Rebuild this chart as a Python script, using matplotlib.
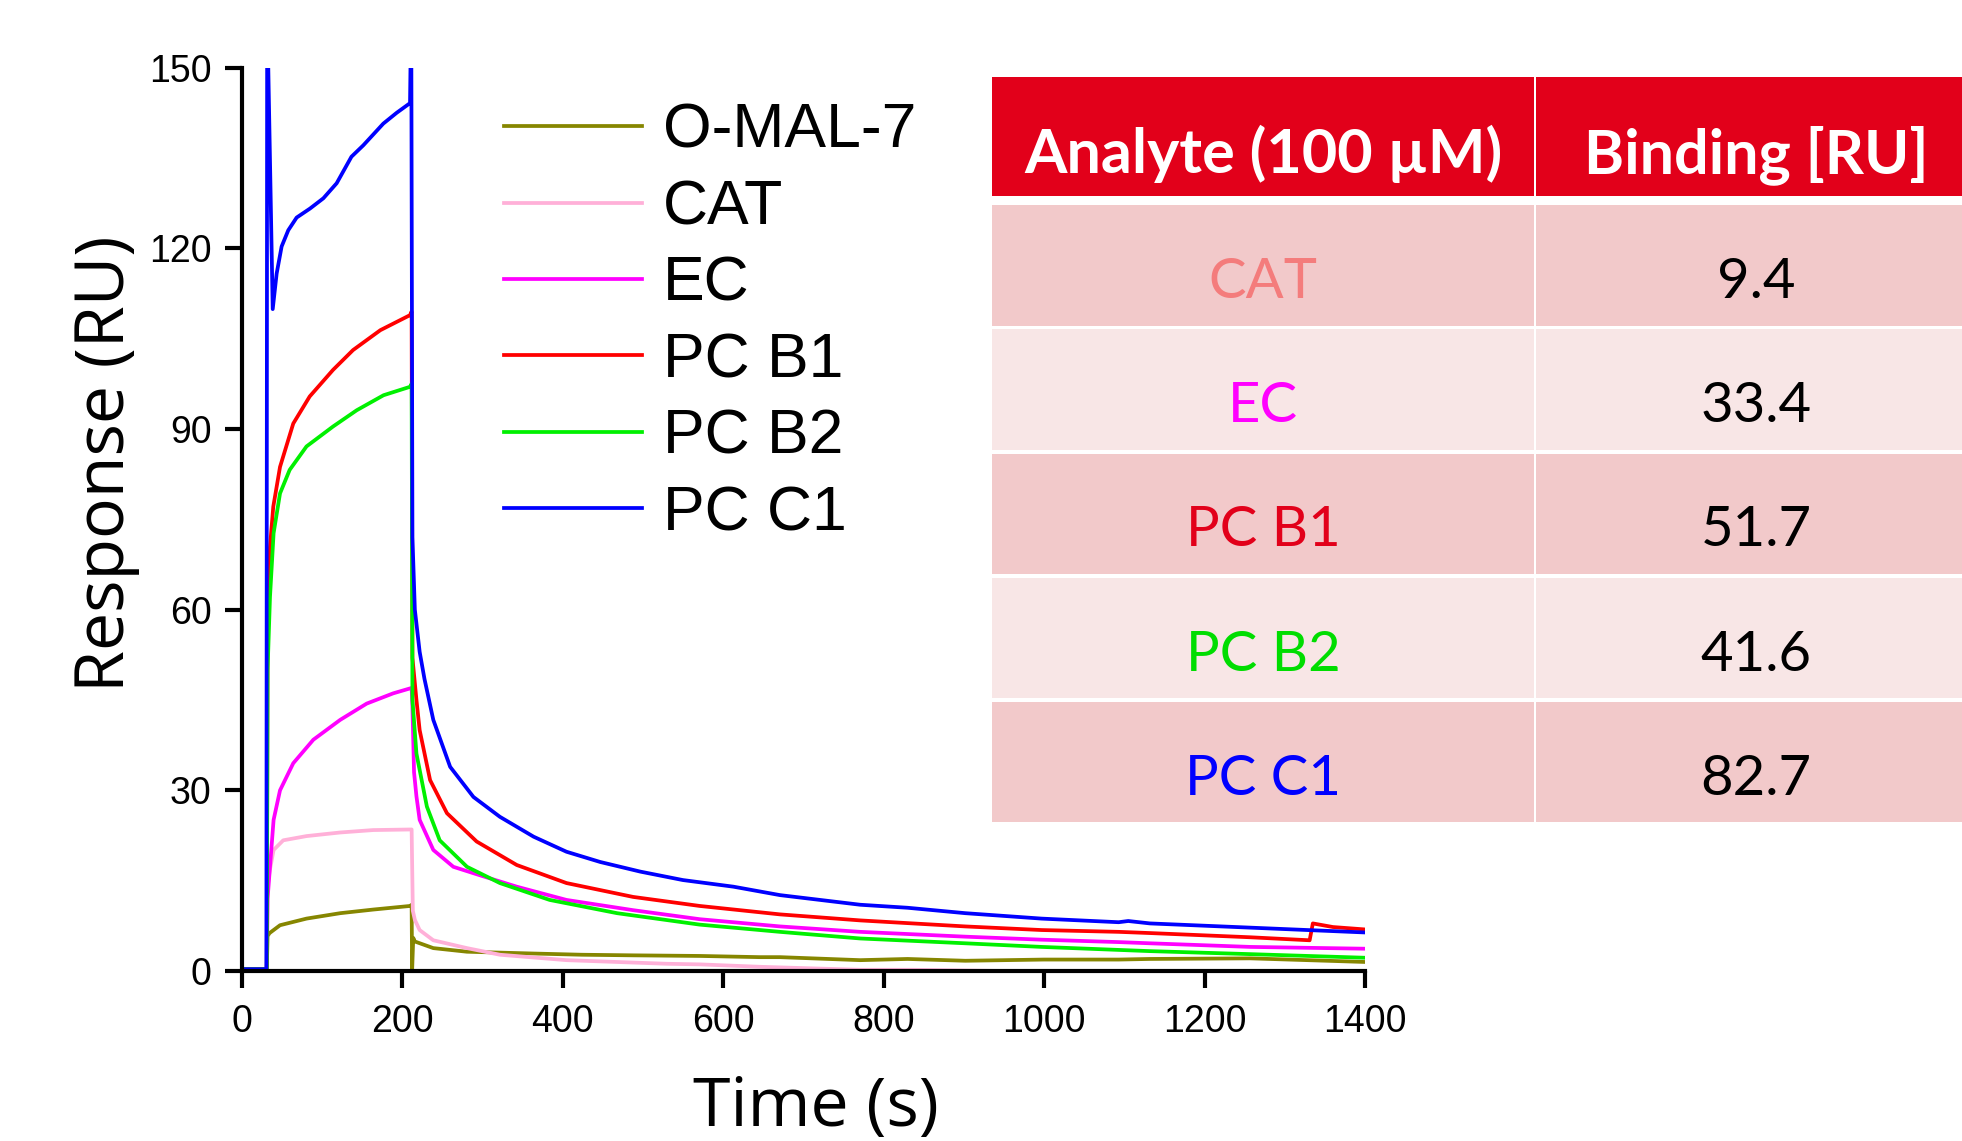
import matplotlib
matplotlib.use("Agg")
import matplotlib.pyplot as plt
from matplotlib.patches import Rectangle

# ---------------- data ----------------
t_omal = [0, 31.5, 32.5, 35, 48, 81, 123, 164, 210, 212, 212.6, 214, 216, 239, 281, 364, 424, 488,
          571, 646, 671, 771, 830, 902, 1000, 1093, 1132, 1257, 1400]
v_omal = [0.3, 0.3, 5.8, 6.3, 7.6, 8.7, 9.6, 10.2, 10.8, 11.0, 0.0, 5.5, 4.9, 3.8, 3.2, 2.9, 2.7, 2.6,
          2.5, 2.3, 2.3, 1.8, 2.0, 1.7, 1.9, 1.9, 2.0, 2.1, 1.5]

t_cat = [0, 31.5, 32.5, 35, 40, 52, 81, 123, 164, 212, 213.5, 216, 222, 239, 281, 322, 405, 530,
         571, 646, 671, 771, 837, 950, 1100, 1400]
v_cat = [0.3, 0.3, 14.0, 16.5, 20.1, 21.7, 22.4, 23.0, 23.4, 23.5, 10.0, 8.5, 6.8, 5.1, 3.8, 2.7, 1.8, 1.2,
         1.1, 0.7, 0.6, 0.2, 0.2, 0.0, -0.3, -0.6]

t_ec = [0, 31.5, 32.5, 35.5, 40, 48, 64.5, 89.5, 123, 156, 189, 212, 213, 215, 218, 222, 239, 264, 297,
        343, 405, 488, 571, 671, 771, 902, 997, 1093, 1132, 1257, 1400]
v_ec = [0.3, 0.3, 12.0, 17.3, 25.1, 30.0, 34.5, 38.4, 41.7, 44.4, 46.1, 47.0, 44.0, 33.0, 29.0, 25.1, 20.1, 17.3, 15.9,
        14.0, 11.8, 10.1, 8.6, 7.4, 6.5, 5.7, 5.2, 4.8, 4.6, 4.0, 3.7]

t_b1 = [0, 31.5, 32.5, 35.5, 39.6, 48, 64.5, 85, 114, 139, 173, 210, 212, 213, 218, 222, 235, 256, 293,
        343, 405, 488, 571, 671, 771, 902, 997, 1093, 1132, 1257, 1331, 1335, 1360, 1400]
v_b1 = [0.3, 0.3, 55.0, 70.4, 77.1, 83.7, 90.9, 95.4, 99.8, 103.1, 106.4, 108.9, 109.5, 52.0, 45.0, 40.0, 31.7, 26.2, 21.5,
        17.6, 14.6, 12.3, 10.8, 9.4, 8.4, 7.4, 6.8, 6.5, 6.3, 5.6, 5.1, 7.9, 7.3, 6.9]

t_b2 = [0, 31.5, 32.5, 35.5, 40, 48, 60, 81, 114, 143.5, 177, 210, 212, 213, 218, 231, 247, 281, 322,
        384, 468, 571, 671, 771, 902, 997, 1093, 1132, 1257, 1400]
v_b2 = [0.3, 0.3, 50.0, 62.1, 72.7, 79.3, 83.2, 87.1, 90.4, 93.1, 95.6, 97.0, 97.5, 45.0, 36.1, 27.3, 21.7, 17.3, 14.6,
        11.8, 9.6, 7.7, 6.5, 5.4, 4.6, 4.0, 3.5, 3.3, 2.8, 2.2]

t_c1 = [0, 31, 32, 38.9, 43.8, 50, 58.3, 68.7, 85.4, 102, 118.6, 137, 151.8, 176.7, 193.4, 210, 211.5,
        213, 216, 222, 228, 239, 260, 289, 322, 364, 405, 447, 497, 550, 613, 671, 771, 830, 902, 997,
        1093, 1105, 1132, 1257, 1400]
v_c1 = [0.3, 0.3, 160.0, 109.9, 115.8, 120.3, 123.0, 125.1, 126.6, 128.3, 130.8, 135.2, 137.1, 140.7, 142.5, 144.1, 160.0,
        72.0, 60.0, 53.0, 48.5, 41.7, 33.9, 28.9, 25.6, 22.3, 19.8, 18.1, 16.5, 15.1, 14.0, 12.6, 11.0, 10.5, 9.6, 8.7,
        8.1, 8.3, 7.9, 7.2, 6.4]

series_labels = ["O-MAL-7", "CAT", "EC", "PC B1", "PC B2", "PC C1"]
series_colors = ["#868600", "#FFB0D8", "#FF00FF", "#FF0000", "#00F000", "#0000FF"]

x_ticks = [0, 200, 400, 600, 800, 1000, 1200, 1400]
y_ticks = [0, 30, 60, 90, 120, 150]

table_headers = ["Analyte (100 \u00b5M)", "Binding [RU]"]
table_analytes = ["CAT", "EC", "PC B1", "PC B2", "PC C1"]
table_binding = ["9.4", "33.4", "51.7", "41.6", "82.7"]
table_text_colors = ["#F47C7C", "#FF00FF", "#E2001A", "#00DD00", "#0000FF"]
table_row_colors = ["#F2C9CA", "#F8E6E6", "#F2C9CA", "#F8E6E6", "#F2C9CA"]
header_color = "#E2001A"

# ---------------- figure ----------------
W, H = 1962, 1141
fig = plt.figure(figsize=(W / 100, H / 100), dpi=100)
fig.patch.set_facecolor("white")

ax = fig.add_axes([241.5 / W, 1 - 971 / H, 1123.5 / W, 903.4 / H])
series = [(t_omal, v_omal), (t_cat, v_cat), (t_ec, v_ec), (t_b1, v_b1), (t_b2, v_b2), (t_c1, v_c1)]
for (t, v), lab, col in zip(series, series_labels, series_colors):
    ax.plot(t, v, color=col, lw=2.7, label=lab, solid_joinstyle="round")

ax.set_xlim(0, 1400)
ax.set_ylim(0, 150)
ax.set_xticks(x_ticks)
ax.set_yticks(y_ticks)
for s in ["top", "right"]:
    ax.spines[s].set_visible(False)
for s in ["left", "bottom"]:
    ax.spines[s].set_linewidth(3.0)
    ax.spines[s].set_zorder(5)
ax.tick_params(axis="both", direction="out", length=12.5, width=3.0, labelsize=27)
ax.tick_params(axis="y", pad=9)
ax.tick_params(axis="x", pad=11)
for lbl in ax.get_xticklabels() + ax.get_yticklabels():
    lbl.set_fontfamily("Liberation Sans")

ax.set_xlabel("Time (s)", fontfamily="Open Sans", fontsize=49, va="baseline")
ax.xaxis.set_label_coords(0.5114, -0.1716)
ax.set_ylabel("Response (RU)", fontfamily="Open Sans", fontsize=49, va="center")
ax.yaxis.set_label_coords(-0.1206, 0.5617)

leg = ax.legend(loc="upper left", bbox_to_anchor=(504 / W, 1 - 102 / H),
                bbox_transform=fig.transFigure, frameon=False,
                prop={"family": "Liberation Sans", "size": 45},
                handlelength=2.21, handletextpad=0.34, labelspacing=0.279,
                borderpad=0, borderaxespad=0)

# ---------------- table ----------------
tab_left, tab_top, tab_bottom = 992, 77.4, 821.5
tax = fig.add_axes([tab_left / W, 1 - tab_bottom / H, (W - tab_left) / W, (tab_bottom - tab_top) / H])
tw = W - tab_left
th = tab_bottom - tab_top
tax.set_xlim(0, tw)
tax.set_ylim(th, 0)
tax.axis("off")

col_split = 541.5
gap_v = 2.5
header_h = 118.4
first_row_top = 127.9
row_pitch = 124.1
row_h = 120.5
col_centers = [271, 764]

tax.add_patch(Rectangle((0, 0), col_split, header_h, facecolor=header_color, edgecolor="none"))
tax.add_patch(Rectangle((col_split + gap_v, 0), tw, header_h, facecolor=header_color, edgecolor="none"))
for j, htxt in enumerate(table_headers):
    tax.text(col_centers[j], 96, htxt, ha="center", va="baseline", color="white",
             fontfamily="Lato", fontweight="bold", fontsize=44)

for i, (name, val, tc, rc) in enumerate(zip(table_analytes, table_binding, table_text_colors, table_row_colors)):
    top = first_row_top + i * row_pitch
    tax.add_patch(Rectangle((0, top), col_split, row_h, facecolor=rc, edgecolor="none"))
    tax.add_patch(Rectangle((col_split + gap_v, top), tw, row_h, facecolor=rc, edgecolor="none"))
    tax.text(col_centers[0], top + 93, name, ha="center", va="baseline", color=tc,
             fontfamily="Lato", fontsize=40.5)
    tax.text(col_centers[1], top + 93, val, ha="center", va="baseline", color="black",
             fontfamily="Lato", fontsize=40.5)

fig.savefig("out.png", dpi=100, facecolor="white")
